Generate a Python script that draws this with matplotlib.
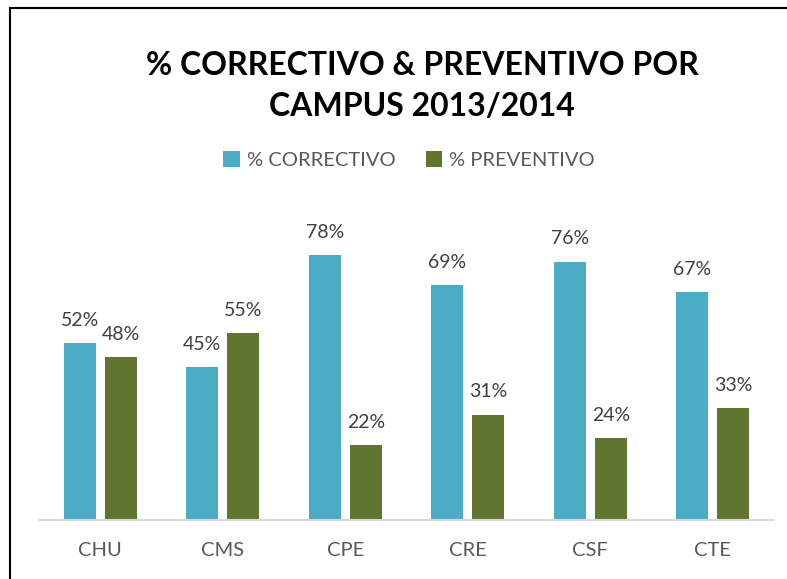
import matplotlib.pyplot as plt
import matplotlib.lines as mlines
import numpy as np

campus = ['CHU', 'CMS', 'CPE', 'CRE', 'CSF', 'CTE']
correctivo = [52, 45, 78, 69, 76, 67]
preventivo = [48, 55, 22, 31, 24, 33]

blue = '#4BACC6'
green = '#5F7530'

plt.rcParams['font.family'] = ['Lato', 'DejaVu Sans']

W, H = 787, 579
fig = plt.figure(figsize=(W / 100, H / 100), dpi=100)

# plot area in pixels: x 39..774, baseline at y=520, 90% at y=214
ax = fig.add_axes([39 / W, 1 - 520 / H, 735 / W, 306 / H])
x = np.arange(len(campus))
bw = 0.26
off = 0.167
b1 = ax.bar(x - off, correctivo, bw, color=blue, label='% CORRECTIVO')
b2 = ax.bar(x + off, preventivo, bw, color=green, label='% PREVENTIVO')

for bars, vals in ((b1, correctivo), (b2, preventivo)):
    for b, v in zip(bars, vals):
        ax.text(b.get_x() + b.get_width() / 2, v + 4.2, f'{v}%', ha='center', va='bottom',
                fontsize=14, color='#404040')

ax.set_xlim(-0.5, len(campus) - 0.5)
ax.set_ylim(0, 90)
ax.set_yticks([])
ax.set_xticks(x)
ax.set_xticklabels(campus, fontsize=14.5, color='#595959')
ax.tick_params(axis='x', length=0, pad=16)
for s in ['top', 'right', 'left']:
    ax.spines[s].set_visible(False)
ax.spines['bottom'].set_color('#D9D9D9')
ax.spines['bottom'].set_linewidth(1.5)

fig.text(422 / W, 1 - 86 / H, '% CORRECTIVO & PREVENTIVO POR\nCAMPUS 2013/2014', ha='center', va='center',
         fontsize=23, fontweight='bold', color='black', linespacing=1.5)

fig.legend(handles=[b1, b2], loc='center', bbox_to_anchor=(409 / W, 1 - 160 / H), ncol=2, frameon=False,
           fontsize=14.5, labelcolor='#595959', handlelength=0.8, handleheight=0.8, handletextpad=0.35,
           columnspacing=1.5)

# chart border (left and top edges visible)
fig.add_artist(mlines.Line2D([9.5 / W, 9.5 / W], [0, 1 - 8 / H], color='black', lw=1.5))
fig.add_artist(mlines.Line2D([9.5 / W, 1], [1 - 8 / H, 1 - 8 / H], color='black', lw=1.5))

fig.savefig('out.png', dpi=100)
